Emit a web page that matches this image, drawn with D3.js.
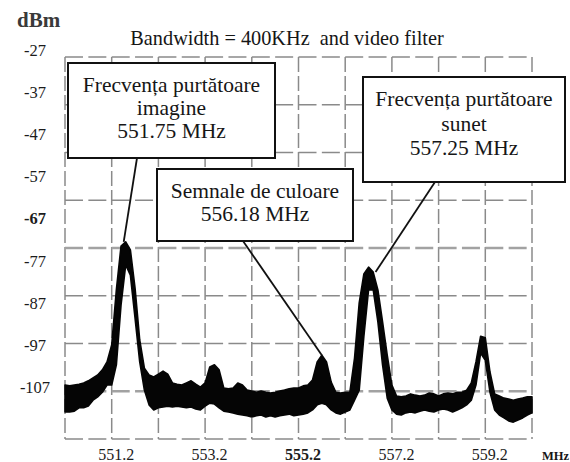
<!DOCTYPE html>
<html>
<head>
<meta charset="utf-8">
<script src="https://cdn.jsdelivr.net/npm/d3@7"></script>
<style>
  html, body { margin: 0; padding: 0; background: #fff; }
  svg { display: block; }
  text { fill: #161616; }
</style>
</head>
<body>
<div id="chart"></div>
<script>
// puncte de baleiaj (MHz)
const freqMHz = [
  550.2, 550.3, 550.4, 550.5, 550.6, 550.7, 550.8, 550.9, 551.0, 551.1,
  551.2, 551.3, 551.4, 551.5, 551.6, 551.7, 551.8, 551.9, 552.0, 552.1,
  552.2, 552.3, 552.4, 552.5, 552.6, 552.7, 552.8, 552.9, 553.0, 553.1,
  553.2, 553.3, 553.4, 553.5, 553.6, 553.7, 553.8, 553.9, 554.0, 554.1,
  554.2, 554.3, 554.4, 554.5, 554.6, 554.7, 554.8, 554.9, 555.0, 555.1,
  555.2, 555.3, 555.4, 555.5, 555.6, 555.7, 555.8, 555.9, 556.0, 556.1,
  556.2, 556.3, 556.4, 556.5, 556.6, 556.7, 556.8, 556.9, 557.0, 557.1,
  557.2, 557.3, 557.4, 557.5, 557.6, 557.7, 557.8, 557.9, 558.0, 558.1,
  558.2, 558.3, 558.4, 558.5, 558.6, 558.7, 558.8, 558.9, 559.0, 559.1,
  559.2, 559.3, 559.4, 559.5, 559.6, 559.7, 559.8, 559.9, 560.0, 560.1,
  560.2
];

// anvelopa superioara a urmei (dBm)
const traceHigh = [
  -106.3, -106.5, -106.3, -106.1, -105.8, -105.3, -104.6, -103.9, -102.7, -100.8,
  -96.8, -83.7, -73.3, -72.3, -74.2, -83.3, -95.6, -102.3, -103.9, -104.4,
  -103.7, -103.0, -103.7, -105.8, -106.1, -106.3, -105.8, -105.3, -106.1, -106.8,
  -105.8, -102.0, -101.5, -102.7, -107.0, -107.2, -107.0, -105.8, -106.3, -107.5,
  -107.7, -108.0, -107.7, -108.0, -108.2, -108.0, -107.7, -107.5, -107.2, -107.0,
  -107.0, -106.5, -106.3, -105.1, -100.8, -99.2, -100.8, -105.6, -108.0, -108.2,
  -108.0, -108.0, -99.9, -86.8, -79.9, -78.3, -79.5, -83.7, -91.3, -99.2,
  -106.3, -108.9, -109.1, -108.9, -108.4, -108.7, -108.9, -108.7, -108.2, -108.4,
  -108.9, -108.4, -108.2, -108.4, -108.0, -108.0, -107.5, -105.8, -100.8, -94.7,
  -95.1, -103.2, -108.4, -108.9, -109.4, -109.6, -109.9, -109.6, -109.4, -109.1,
  -109.1
];

// anvelopa inferioara a urmei (dBm)
const traceLow = [
  -112.7, -112.7, -112.5, -111.7, -111.7, -111.3, -109.9, -109.1, -108.0, -106.3,
  -106.3, -101.5, -87.3, -77.8, -80.2, -90.4, -100.8, -107.5, -111.0, -112.2,
  -111.7, -111.5, -111.3, -111.5, -111.3, -111.5, -111.7, -111.5, -112.0, -112.2,
  -111.3, -110.6, -110.8, -111.7, -112.5, -112.7, -112.9, -113.2, -113.4, -113.6,
  -113.9, -113.6, -113.4, -113.9, -113.6, -113.9, -113.6, -113.4, -113.2, -113.6,
  -113.4, -113.2, -112.9, -112.2, -111.0, -110.6, -111.0, -112.2, -112.9, -113.2,
  -112.7, -112.2, -109.9, -107.5, -94.7, -83.7, -83.7, -91.3, -101.5, -109.4,
  -112.2, -113.2, -113.4, -112.9, -112.7, -112.9, -112.5, -112.2, -112.5, -112.7,
  -112.2, -112.0, -112.2, -112.7, -112.2, -111.7, -111.0, -109.9, -106.3, -98.7,
  -100.4, -108.0, -112.2, -113.4, -114.1, -114.8, -115.1, -114.6, -114.1, -113.4,
  -112.9
];

const yTicks = [-27, -37, -47, -57, -67, -77, -87, -97, -107];
const xTicks = [551.2, 553.2, 555.2, 557.2, 559.2];

const titleText = 'Bandwidth = 400KHz  and video filter';
const yUnit = 'dBm';
const xUnit = 'MHz';

// casetele de adnotare si varful indicat (frecventa aproximativa a varfului)
const callouts = [
  { lines: ['Frecvența purtătoare', 'imagine', '551.75 MHz'], peakNear: 551.5,
    box: { x: 68, y: 63, w: 207, h: 95 }, lineH: 23, from: [137, 158], off: [-2, 0] },
  { lines: ['Semnale de culoare', '556.18 MHz'], peakNear: 555.7,
    box: { x: 157, y: 169, w: 196, h: 72 }, lineH: 23, from: [243, 241], off: [0, 0] },
  { lines: ['Frecvența purtătoare', 'sunet', '557.25 MHz'], peakNear: 556.7,
    box: { x: 363, y: 77, w: 202, h: 105 }, lineH: 24.5, from: [435, 182], off: [7, 5] }
];

const serifFont = '"Liberation Serif", "Times New Roman", "DejaVu Serif", serif';

const width = 570;
const height = 462;
const plot = { left: 65, right: 532, top: 57, bottom: 439 };

const svg = d3.select('#chart')
  .append('svg')
  .attr('width', width)
  .attr('height', height)
  .style('background', '#fff');

const x = d3.scaleLinear()
  .domain([550.2, 560.2])
  .range([plot.left, plot.right]);

// scara etichetelor verticale (asa cum apar pe imagine)
const y = d3.scaleLinear()
  .domain([-27, -107])
  .range([51, 388]);

// grila ecranului analizorului: 10 x 8 diviziuni
const gridRows = d3.scaleLinear().domain([0, 8]).range([plot.top, plot.bottom]);

const grid = svg.append('g').attr('class', 'grid');

grid.selectAll('line.v')
  .data(d3.range(11))
  .enter()
  .append('line')
  .attr('class', 'v')
  .attr('x1', d => x(550.2 + d))
  .attr('x2', d => x(550.2 + d))
  .attr('y1', plot.top)
  .attr('y2', plot.bottom)
  .attr('stroke', '#8a8a8a')
  .attr('stroke-width', 1.5)
  .attr('stroke-dasharray', '15,4');

grid.selectAll('line.h')
  .data(d3.range(9))
  .enter()
  .append('line')
  .attr('class', 'h')
  .attr('x1', plot.left)
  .attr('x2', plot.right)
  .attr('y1', d => gridRows(d))
  .attr('y2', d => gridRows(d))
  .attr('stroke', d => (d === 4 || d === 7) ? '#a2a2a2' : '#8a8a8a')
  .attr('stroke-width', d => (d === 4 || d === 7) ? 2.6 : 1.5)
  .attr('stroke-dasharray', '18,5.35');

// urma spectrului: banda intre anvelope
const trace = freqMHz.map((f, i) => ({ f, hi: traceHigh[i], lo: traceLow[i] }));

const area = d3.area()
  .x(d => x(d.f))
  .y0(d => y(d.lo))
  .y1(d => y(d.hi))
  .curve(d3.curveLinear);

svg.append('path')
  .datum(trace)
  .attr('d', area)
  .attr('fill', '#050505')
  .attr('stroke', '#050505')
  .attr('stroke-width', 1.6)
  .attr('stroke-linejoin', 'round');

// axe
const yAxis = svg.append('g')
  .attr('transform', 'translate(35,0)')
  .call(d3.axisLeft(y).tickValues(yTicks).tickSize(0).tickFormat(d => String(d)));
yAxis.select('.domain').remove();
yAxis.selectAll('text')
  .attr('x', 0)
  .attr('dy', '0.27em')
  .attr('text-anchor', 'middle')
  .style('font-size', '16.5px')
  .style('fill', '#1c1c1c')
  .style('font-weight', d => d === -67 ? 'bold' : null);

const xAxis = svg.append('g')
  .attr('transform', 'translate(4,445)')
  .call(d3.axisBottom(x).tickValues(xTicks).tickSize(0).tickFormat(d => d.toFixed(1)));
xAxis.select('.domain').remove();
xAxis.selectAll('text')
  .attr('y', 15)
  .attr('dy', 0)
  .style('font-size', '16px')
  .style('fill', '#1c1c1c')
  .style('font-weight', d => d === 555.2 ? 'bold' : null);

svg.append('text')
  .attr('x', 542)
  .attr('y', 460)
  .style('font-size', '12.5px')
  .style('font-weight', 'bold')
  .text(xUnit);

svg.append('text')
  .attr('x', 17)
  .attr('y', 27)
  .style('font-size', '21px')
  .style('font-weight', 'bold')
  .style('fill', '#3a3a3a')
  .text(yUnit);

svg.append('text')
  .attr('x', 287)
  .attr('y', 45)
  .attr('text-anchor', 'middle')
  .style('font-size', '20.3px')
  .style('white-space', 'pre')
  .text(titleText);

// adnotari
callouts.forEach(c => {
  // varful cel mai inalt din vecinatatea frecventei indicate
  const near = trace.filter(d => Math.abs(d.f - c.peakNear) < 0.35);
  const peak = near.reduce((a, b) => (b.hi > a.hi ? b : a));
  const tx = x(peak.f) + c.off[0];
  const ty = y(peak.hi) + c.off[1];

  svg.append('line')
    .attr('x1', c.from[0])
    .attr('y1', c.from[1])
    .attr('x2', tx)
    .attr('y2', ty)
    .attr('stroke', '#111')
    .attr('stroke-width', 1.8);

  const g = svg.append('g');
  g.append('rect')
    .attr('x', c.box.x)
    .attr('y', c.box.y)
    .attr('width', c.box.w)
    .attr('height', c.box.h)
    .attr('fill', '#fff')
    .attr('stroke', '#111')
    .attr('stroke-width', 2);

  g.selectAll('text')
    .data(c.lines)
    .enter()
    .append('text')
    .attr('x', c.box.x + c.box.w / 2)
    .attr('y', (d, i) => c.box.y + 29 + i * c.lineH)
    .attr('text-anchor', 'middle')
    .style('font-size', '21.5px')
    .text(d => d);
});

// toate textele in acelasi font serif
svg.selectAll('text').style('font-family', serifFont);
</script>
</body>
</html>
